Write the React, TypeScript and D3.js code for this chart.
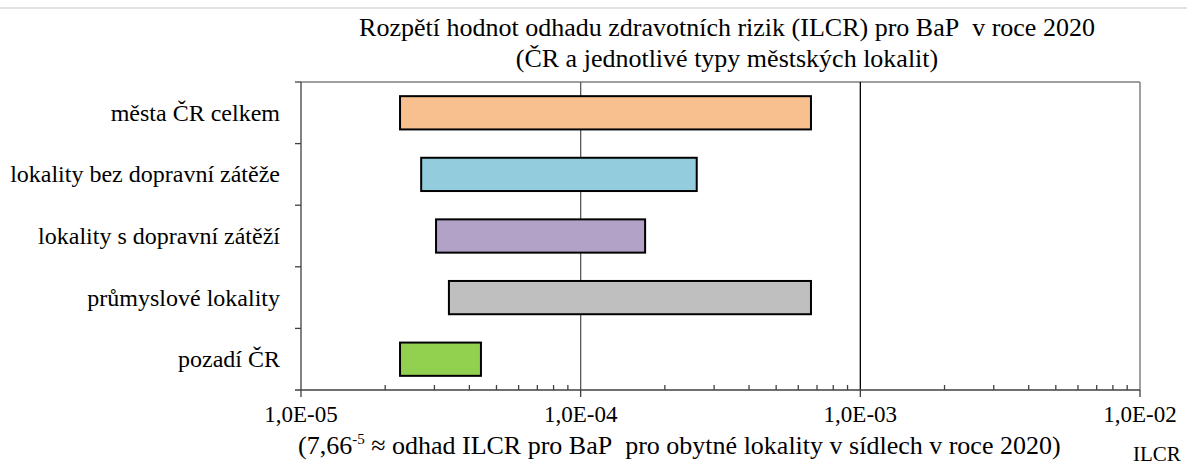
import { useMemo } from "react";
import * as d3 from "d3";

const categories = [
  "města ČR celkem",
  "lokality bez dopravní zátěže",
  "lokality s dopravní zátěží",
  "průmyslové lokality",
  "pozadí ČR",
];
const minValues = [2.26e-5, 2.69e-5, 3.04e-5, 3.38e-5, 2.26e-5];
const maxValues = [6.66e-4, 2.6e-4, 1.7e-4, 6.66e-4, 4.4e-5];
const colors = ["#F9C08F", "#93CDDD", "#B3A2C7", "#BFBFBF", "#92D050"];
const majorTicks = [1e-5, 1e-4, 1e-3, 1e-2];
const tickLabels = ["1,0E-05", "1,0E-04", "1,0E-03", "1,0E-02"];

const W = 1187;
const H = 463;
const serif = { fontFamily: "Liberation Serif" };

export default function App() {
  const left = 301, right = 1140, top = 82, bottom = 390;

  const x = useMemo(() => d3.scaleLog().domain([1e-5, 1e-2]).range([left, right]), []);
  const y = useMemo(
    () => d3.scaleBand().domain(categories).range([top, bottom]).paddingInner(0.46).paddingOuter(0.23),
    []
  );
  const band = d3.scaleBand().domain(categories).range([top, bottom]);

  const minor: number[] = [];
  for (let e = -5; e < -2; e++) {
    for (let m = 2; m <= 9; m++) minor.push(m * Math.pow(10, e));
  }

  return (
    <div style={{ position: "absolute", left: 0, top: 0 }}>
      <svg width={W} height={H} style={{ display: "block" }}>
        <rect width={W} height={H} fill="#fff" />
        <line x1={0} x2={W} y1={8} y2={8} stroke="#d9d9d9" strokeWidth={1.5} />

        <text x={727} y={36} textAnchor="middle" fontSize={26} fill="#000" style={serif}>
          {"Rozpětí hodnot odhadu zdravotních rizik (ILCR) pro BaP\u00a0 v roce 2020"}
        </text>
        <text x={727} y={67} textAnchor="middle" fontSize={26} fill="#000" style={serif}>
          (ČR a jednotlivé typy městských lokalit)
        </text>

        {/* frame */}
        <line x1={left} x2={right} y1={top} y2={top} stroke="#7f7f7f" strokeWidth={1.5} />
        <line x1={right} x2={right} y1={top} y2={bottom} stroke="#7f7f7f" strokeWidth={1.5} />
        <line x1={x(1e-4)} x2={x(1e-4)} y1={top} y2={bottom} stroke="#595959" strokeWidth={1.3} />
        <line x1={x(1e-3)} x2={x(1e-3)} y1={top} y2={bottom} stroke="#000" strokeWidth={1.3} />

        {categories.map((c, i) => (
          <rect
            key={c}
            x={x(minValues[i])}
            y={y(c)}
            width={x(maxValues[i]) - x(minValues[i])}
            height={y.bandwidth()}
            fill={colors[i]}
            stroke="#000"
            strokeWidth={2}
          />
        ))}

        {/* left axis */}
        <line x1={left} x2={left} y1={top} y2={bottom} stroke="#404040" strokeWidth={1.3} />
        {categories.map((c) => (
          <line key={"t" + c} x1={left - 6} x2={left} y1={band(c)} y2={band(c)} stroke="#404040" strokeWidth={1.3} />
        ))}
        {categories.map((c) => (
          <text
            key={"l" + c}
            x={280}
            y={(band(c) as number) + band.bandwidth() / 2 + 8}
            textAnchor="end"
            fontSize={24}
            fill="#000"
            style={serif}
          >
            {c}
          </text>
        ))}

        {/* bottom axis */}
        <line x1={left - 6} x2={right} y1={bottom} y2={bottom} stroke="#404040" strokeWidth={1.3} />
        {majorTicks.map((t) => (
          <line key={"M" + t} x1={x(t)} x2={x(t)} y1={bottom} y2={bottom + 7} stroke="#404040" strokeWidth={1.3} />
        ))}
        {minor.map((t) => (
          <line key={"m" + t} x1={x(t)} x2={x(t)} y1={bottom - 5} y2={bottom} stroke="#404040" strokeWidth={1.3} />
        ))}
        {majorTicks.map((t, i) => (
          <text key={"L" + t} x={x(t)} y={422} textAnchor="middle" fontSize={23} fill="#000" style={serif}>
            {tickLabels[i]}
          </text>
        ))}

        <text x={298} y={454} fontSize={26} fill="#000" style={serif}>
          (7,66
          <tspan dy={-10} fontSize={15}>-5</tspan>
          <tspan dy={10}>{" ≈ odhad ILCR pro BaP\u00a0 pro obytné lokality v sídlech v roce 2020)"}</tspan>
        </text>
        <text x={1133} y={461} fontSize={21} fill="#000" style={serif}>ILCR</text>
      </svg>
    </div>
  );
}
